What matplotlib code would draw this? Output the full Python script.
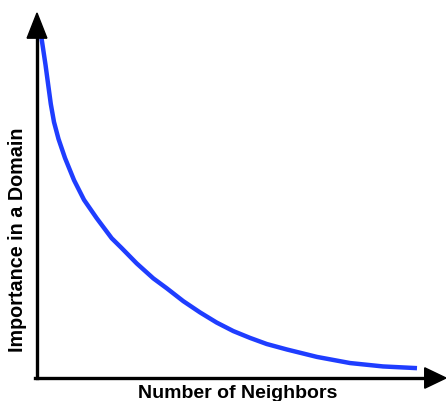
import matplotlib
matplotlib.use('Agg')
import matplotlib.pyplot as plt

# curve (neighbors 0..100, importance 0..100)
neighbors = [1.18, 1.53, 2.24, 2.95, 3.63, 4.47, 5.66, 7.37, 9.74, 12.37,
             15.71, 19.66, 22.29, 26.24, 30.61, 34.13, 38.50, 42.89, 47.29,
             51.66, 56.05, 60.45, 65.71, 73.68, 82.37, 91.05, 100.0]
importance = [100.0, 97.4, 92.1, 86.2, 80.6, 75.3, 70.3, 64.7, 58.2, 52.4,
              47.0, 41.1, 38.2, 33.7, 29.3, 26.4, 22.6, 19.3, 16.3,
              13.8, 11.8, 10.0, 8.4, 6.2, 4.4, 3.4, 2.9]

x_label = 'Number of Neighbors'
y_label = 'Importance in a Domain'

W, H = 446, 401
fig = plt.figure(figsize=(W / 100, H / 100), dpi=100)
# axes origin at pixel (37, 378), 100 data units = 380 px wide, 340 px tall
ax = fig.add_axes([37 / W, (H - 378) / H, (W - 37) / W, (378 - 13) / H])
ax.set_xlim(0, (W - 37) / 380 * 100)
ax.set_ylim(0, (378 - 13) / 340 * 100)
ax.axis('off')

ax.plot(neighbors, importance, color='#1f3dff', lw=3.2,
        solid_capstyle='butt', solid_joinstyle='round', zorder=2)

# arrow axes
xmax = ax.get_xlim()[1]
ymax = ax.get_ylim()[1]
ax.plot([-0.4, xmax - 4], [0, 0], color='black', lw=2.4,
        solid_capstyle='projecting', clip_on=False, zorder=3)
ax.plot([0, 0], [0, ymax - 5], color='black', lw=2.4,
        solid_capstyle='projecting', clip_on=False, zorder=3)
ax.fill([xmax - 5.6, xmax, xmax - 5.6], [-3.0, 0, 3.0], color='black',
        clip_on=False, zorder=4)
ax.fill([-2.6, 0, 2.6], [ymax - 7.4, ymax, ymax - 7.4], color='black',
        clip_on=False, zorder=4)

fig.text(238 / W, 1 - 393 / H, x_label, ha='center', va='center',
         fontsize=14, fontweight='bold', family='Liberation Sans')
fig.text(18 / W, 1 - 240 / H, y_label, ha='center', va='center',
         rotation=90, fontsize=14.2, fontweight='bold',
         family='Liberation Sans')

fig.savefig('out.png', dpi=100)
